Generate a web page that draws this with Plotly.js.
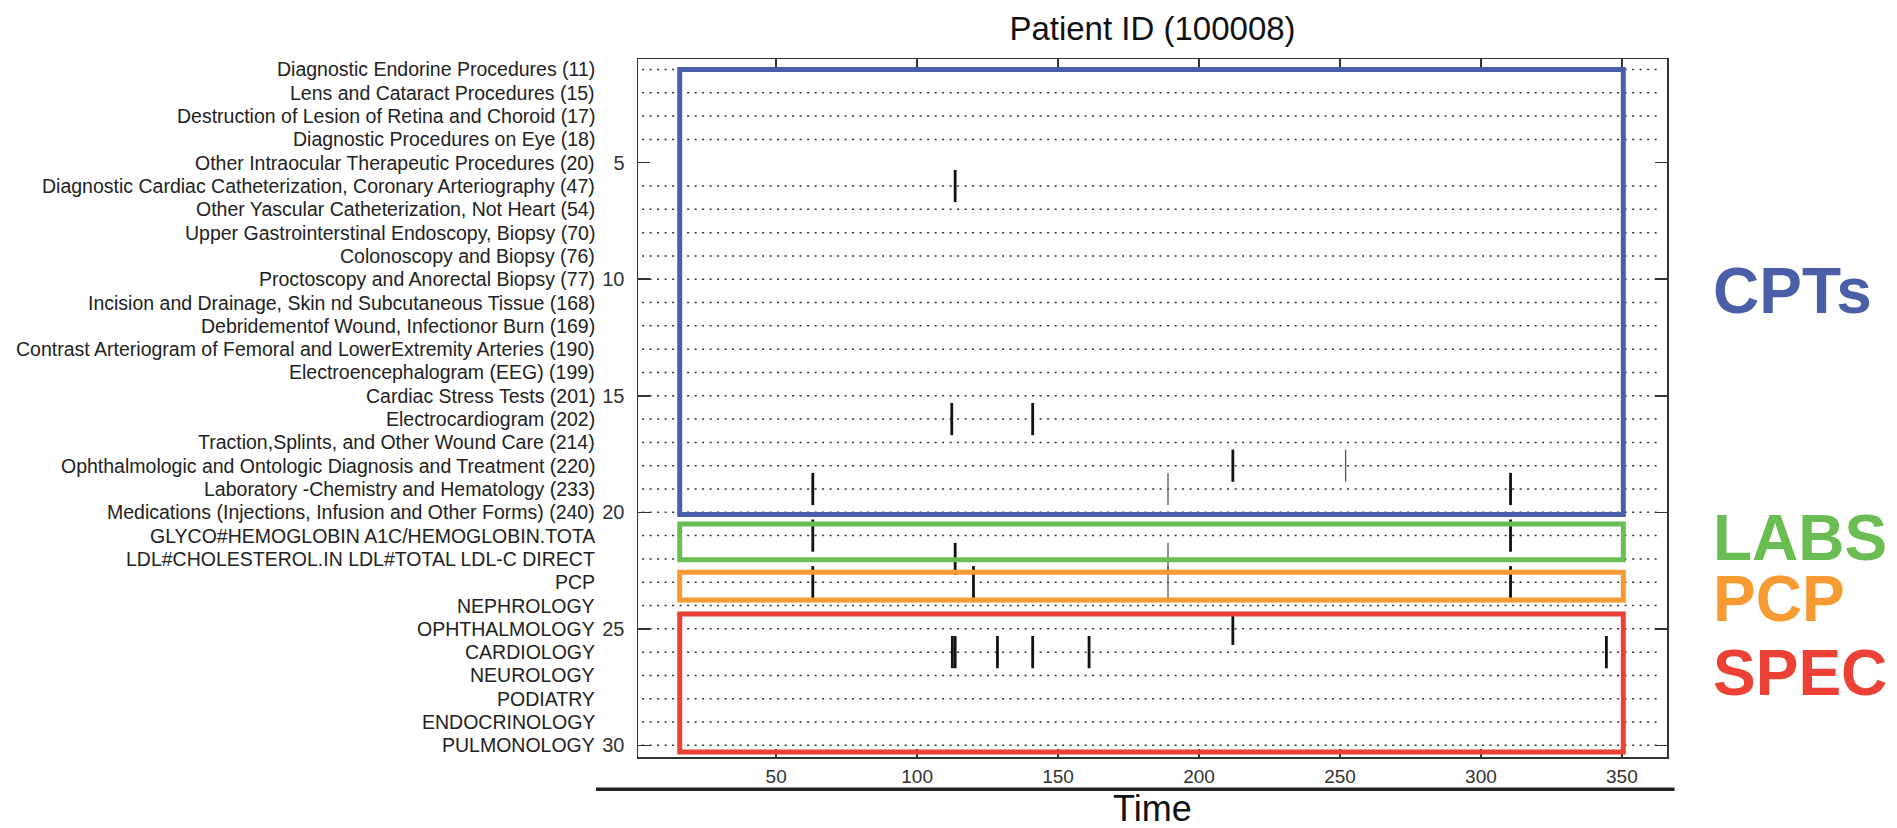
<!DOCTYPE html>
<html>
<head>
<meta charset="utf-8">
<script src="https://cdn.plot.ly/plotly-3.0.1.min.js"></script>
<style>
  html, body { margin: 0; padding: 0; background: #fff; }
  #chart { width: 1897px; height: 828px; }
</style>
</head>
<body>
<div id="chart"></div>
<script>
// ---- data ----
const rowLabels = [
  "Diagnostic Endorine Procedures (11)",
  "Lens and Cataract Procedures (15)",
  "Destruction of Lesion of Retina and Choroid (17)",
  "Diagnostic Procedures on Eye (18)",
  "Other Intraocular Therapeutic Procedures (20)",
  "Diagnostic Cardiac Catheterization, Coronary Arteriography (47)",
  "Other Yascular Catheterization, Not Heart (54)",
  "Upper Gastrointerstinal Endoscopy, Biopsy (70)",
  "Colonoscopy and Biopsy (76)",
  "Proctoscopy and Anorectal Biopsy (77)",
  "Incision and Drainage, Skin nd Subcutaneous Tissue (168)",
  "Debridementof Wound, Infectionor Burn (169)",
  "Contrast Arteriogram of Femoral and LowerExtremity Arteries (190)",
  "Electroencephalogram (EEG) (199)",
  "Cardiac Stress Tests (201)",
  "Electrocardiogram (202)",
  "Traction,Splints, and Other Wound Care (214)",
  "Ophthalmologic and Ontologic Diagnosis and Treatment (220)",
  "Laboratory -Chemistry and Hematology (233)",
  "Medications (Injections, Infusion and Other Forms) (240)",
  "GLYCO#HEMOGLOBIN A1C/HEMOGLOBIN.TOTA",
  "LDL#CHOLESTEROL.IN LDL#TOTAL LDL-C DIRECT",
  "PCP",
  "NEPHROLOGY",
  "OPHTHALMOLOGY",
  "CARDIOLOGY",
  "NEUROLOGY",
  "PODIATRY",
  "ENDOCRINOLOGY",
  "PULMONOLOGY"
];
// rows that carry a dotted guide line (row 5 has none in the original)
const guideRows = [1,2,3,4,6,7,8,9,10,11,12,13,14,15,16,17,18,19,20,21,22,23,24,25,26,27,28,29,30];

// events (time, row)
const eventTimes = [113.5, 112.3, 141, 212, 63, 310.5, 63, 310.5, 113.5, 63, 120, 310.5, 212, 112.5, 113.5, 128.5, 141, 161, 344.5];
const eventRows  = [6,     16,    16,  18,  19, 19,    21, 21,    22,    23, 23,  23,    25,  26,    26,    26,    26,  26,  26];
// faint events
const faintTimes = [252, 189, 189, 189];
const faintRows  = [18,  19,  22,  23];

// groups
const groupNames  = ["CPTs", "LABS", "PCP", "SPEC"];
const groupTop    = [1, 20.5, 22.57, 24.36];
const groupBottom = [20.1, 22.04, 23.76, 30.29];
const groupStart  = 15.8;
const groupEnd    = 350.5;

const xTicks = [50, 100, 150, 200, 250, 300, 350];
const yTicks = [5, 10, 15, 20, 25, 30];

// ---- styles ----
const groupColors = ["#4A5FA8", "#6ABD52", "#F79A31", "#EE4136"];
const groupLabelY = [0.6675, 0.314, 0.226, 0.12];
const FONT = "Liberation Sans, Arial, Helvetica, sans-serif";

const traces = [
  {
    type: "scatter", mode: "markers",
    x: eventTimes, y: eventRows,
    marker: { symbol: "line-ns", size: 23, color: "#111", line: { color: "#111", width: 2.8 } },
    hoverinfo: "x+y", showlegend: false
  },
  {
    type: "scatter", mode: "markers",
    x: faintTimes, y: faintRows,
    marker: { symbol: "line-ns", size: 23, color: "#555", line: { color: "#555", width: 1.3 } },
    hoverinfo: "x+y", showlegend: false
  }
];

const shapes = [];
guideRows.forEach(r => {
  shapes.push({
    type: "line", xref: "paper", yref: "y", x0: 0.004, x1: 0.994, y0: r, y1: r,
    line: { color: "#333", width: 1.5, dash: "2px,5.5px" }, layer: "below"
  });
});
groupNames.forEach((g, i) => {
  shapes.push({
    type: "rect", xref: "x", yref: "y",
    x0: groupStart, x1: groupEnd, y0: groupTop[i], y1: groupBottom[i],
    line: { color: groupColors[i], width: 5 }, fillcolor: "rgba(0,0,0,0)", layer: "above"
  });
});
// thick rule under the x axis
shapes.push({
  type: "line", xref: "paper", yref: "paper", x0: -0.0408, x1: 1.0073, y0: -0.0463, y1: -0.0463,
  line: { color: "#222", width: 3.5 }
});

const annotations = [];
rowLabels.forEach((lab, i) => {
  annotations.push({
    xref: "paper", yref: "y", x: 0, y: i + 1, xanchor: "right", yanchor: "middle",
    xshift: -41, text: lab, showarrow: false,
    font: { family: FONT, size: 19.5, color: "#222" }
  });
});
groupNames.forEach((g, i) => {
  annotations.push({
    xref: "paper", yref: "paper", x: 1, xshift: 44, y: groupLabelY[i],
    xanchor: "left", yanchor: "middle", text: "<b>" + g + "</b>", showarrow: false,
    font: { family: FONT, size: 64, color: groupColors[i] }
  });
});
annotations.push({
  xref: "paper", yref: "paper", x: 0.5, y: 0, yshift: -51, xanchor: "center", yanchor: "middle",
  text: "Time", showarrow: false, font: { family: FONT, size: 36, color: "#111" }
});

const layout = {
  width: 1897, height: 828,
  margin: { l: 638, r: 230, t: 59, b: 71, pad: 0 },
  paper_bgcolor: "#fff", plot_bgcolor: "#fff",
  title: {
    text: "Patient ID (100008)", xref: "paper", x: 0.5, xanchor: "center",
    yref: "container", y: 1 - 28 / 828, yanchor: "middle",
    font: { family: FONT, size: 33, color: "#111" }
  },
  xaxis: {
    range: [1, 366], tickvals: xTicks, ticktext: xTicks.map(String),
    ticks: "inside", ticklen: 8, tickwidth: 1.5, tickcolor: "#333",
    showline: true, linecolor: "#333", linewidth: 1.5, mirror: "ticks",
    showgrid: false, zeroline: false, ticklabelstandoff: 2,
    tickfont: { family: FONT, size: 19, color: "#333" }
  },
  yaxis: {
    range: [30.5, 0.55], tickvals: yTicks, ticktext: yTicks.map(String),
    ticks: "inside", ticklen: 12, tickwidth: 1.5, tickcolor: "#333",
    showline: true, linecolor: "#333", linewidth: 1.5, mirror: "ticks",
    showgrid: false, zeroline: false, ticklabelstandoff: 8,
    tickfont: { family: FONT, size: 20, color: "#333" }
  },
  shapes: shapes,
  annotations: annotations,
  showlegend: false
};

Plotly.newPlot("chart", traces, layout, { displayModeBar: false, staticPlot: true });
</script>
</body>
</html>
